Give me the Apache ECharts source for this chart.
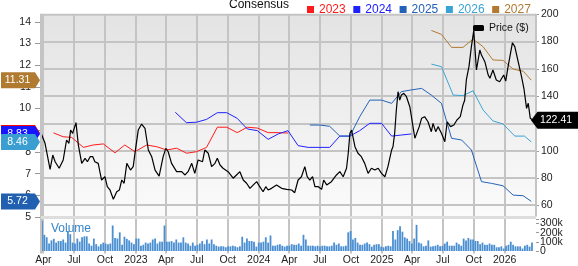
<!DOCTYPE html>
<html><head><meta charset="utf-8">
<script src="https://cdn.jsdelivr.net/npm/echarts@6/dist/echarts.min.js"></script>
<style>
html,body{margin:0;padding:0;background:#fff}
#c{width:578px;height:266px;background:linear-gradient(#e3e3e3,#fbfbfb) no-repeat;background-position:41px 14px;background-size:495px 203px}
</style>
</head><body><div id="c"></div>
<script>
// ---------- data ----------
const priceDates = ['2022-03-25','2022-04-06','2022-04-21','2022-04-29','2022-05-06','2022-05-18','2022-05-30','2022-06-04','2022-06-09','2022-06-16','2022-06-21','2022-06-27','2022-07-07','2022-07-14','2022-07-24','2022-08-03','2022-08-10','2022-08-18','2022-08-26','2022-09-01','2022-09-11','2022-09-21','2022-10-01','2022-10-08','2022-10-16','2022-10-26','2022-11-05','2022-11-13','2022-11-20','2022-11-27','2022-12-05','2022-12-16','2022-12-24','2023-01-01','2023-01-08','2023-01-18','2023-01-28','2023-02-07','2023-02-17','2023-02-27','2023-03-11','2023-03-23','2023-03-31','2023-04-07','2023-04-17','2023-05-02','2023-05-17','2023-05-27','2023-06-05','2023-06-16','2023-06-25','2023-07-05','2023-07-18','2023-07-25','2023-08-04','2023-08-14','2023-08-24','2023-08-31','2023-09-08','2023-09-17','2023-10-02','2023-10-17','2023-10-27','2023-11-06','2023-11-16','2023-11-26','2023-12-06','2023-12-16','2023-12-26','2024-01-04','2024-01-14','2024-01-22','2024-01-29','2024-02-08','2024-02-23','2024-03-09','2024-03-24','2024-04-08','2024-04-17','2024-04-27','2024-05-07','2024-05-17','2024-05-24','2024-06-01','2024-06-09','2024-06-16','2024-06-26','2024-07-06','2024-07-12','2024-07-21','2024-08-04','2024-08-19','2024-08-29','2024-09-08','2024-09-18','2024-09-23','2024-09-28','2024-10-03','2024-10-13','2024-10-22','2024-11-01','2024-11-11','2024-11-21','2024-12-01','2024-12-11','2024-12-21','2024-12-31','2025-01-10','2025-01-19','2025-01-30','2025-02-03','2025-02-08','2025-02-13','2025-02-18','2025-02-23','2025-02-28','2025-03-07','2025-03-15','2025-03-25','2025-03-30','2025-04-09','2025-04-14','2025-04-22','2025-04-29','2025-05-08','2025-05-18','2025-05-28','2025-06-02','2025-06-10','2025-06-17','2025-06-27','2025-07-07','2025-07-14','2025-07-24','2025-08-03','2025-08-12','2025-08-22','2025-08-30','2025-09-04','2025-09-09','2025-09-17','2025-09-24','2025-10-01','2025-10-09','2025-10-19','2025-10-24','2025-11-03','2025-11-13','2025-11-18','2025-11-27','2025-12-07','2025-12-17','2025-12-29','2026-01-04','2026-01-11','2026-01-24','2026-01-31','2026-02-10','2026-02-20','2026-02-27','2026-03-07','2026-03-12','2026-03-18','2026-03-26'];
const priceValues = [113,105.5,86.4,96.9,92,87.2,93.3,92,107.9,105.5,115.2,112.8,120.6,104.2,90.8,94.5,92,95.7,95.7,92,90.8,78.6,81,73.7,71.3,64.5,70,71.3,78.6,76.2,90.8,85.9,88.4,103,115.2,119.6,116.5,100.6,95.7,85.9,81.5,95.7,101.8,99.3,90.8,84.7,84.7,82.3,84.7,90.8,83.5,93.3,92,100.6,98.2,88.4,90.8,94.5,89.6,87.2,84.7,79.9,82.3,84.7,78.6,76.2,72.5,75,77.4,73.7,70,73.7,71.3,72.5,75,72.5,71.8,71.3,69.3,78.6,81,88.4,81,78.6,81,73.7,73.7,71.8,78.6,75,77.4,82.3,84.7,81,87.2,98.2,112.8,115.2,103,98.2,95.7,90.8,83.5,87.2,85.9,87.2,83.5,81,88.4,100.6,103,112.8,129.9,143.3,137.2,140.9,142.1,139.6,132.3,133.6,109.2,107.9,117.7,123.8,125,121.3,114,120.1,114,117.7,112.8,106.7,121.3,117.7,118.9,122.6,125,133.6,137,151.9,162,176.3,188,159.2,173.8,170.2,165.3,155.5,153.1,159.2,151.9,150.6,155.5,151,161.6,179.2,176.3,165.3,154.3,145.8,131.1,134.8,123.8,122.41];

const eps2023Dates = ['2022-05-01','2022-05-30','2022-06-24','2022-07-29','2022-08-27','2022-09-26','2022-10-31','2022-11-29','2022-12-29','2023-02-02','2023-03-04','2023-04-02','2023-05-02','2023-06-01','2023-06-30','2023-07-30','2023-08-31','2023-09-28','2023-10-29','2023-11-28','2023-12-28','2024-01-29','2024-02-28','2024-03-28'];
const eps2023 = [8.88,8.70,8.67,8.21,8.32,8.37,7.96,8.32,8.01,8.32,8.24,8.09,8.17,7.94,8.01,8.21,9.14,9.14,8.89,9.14,9.10,8.89,8.89,8.87];

const eps2024Dates = ['2023-04-28','2023-05-31','2023-06-30','2023-07-30','2023-08-31','2023-09-28','2023-10-29','2023-11-28','2023-12-28','2024-01-29','2024-02-28','2024-03-28','2024-04-27','2024-05-27','2024-06-28','2024-07-30','2024-08-29','2024-09-28','2024-10-27','2024-11-26','2024-12-31','2025-01-30','2025-02-28','2025-03-30'];
const eps2024 = [9.83,9.35,9.37,9.50,9.81,9.81,9.55,9.06,8.98,8.58,8.83,8.98,8.29,8.21,8.21,8.21,8.73,8.73,8.98,9.32,9.32,8.73,8.78,8.83];

const eps2025Dates = ['2024-06-01','2024-07-01','2024-07-30','2024-08-29','2024-09-28','2024-10-27','2024-11-26','2024-12-31','2025-01-30','2025-02-28','2025-03-30','2025-04-29','2025-05-28','2025-06-27','2025-07-27','2025-08-26','2025-09-24','2025-10-24','2025-11-23','2025-12-27','2026-01-26','2026-02-25','2026-03-21'];
const eps2025 = [9.24,9.24,9.18,8.73,8.73,9.62,10.39,10.39,10.24,10.78,10.86,10.93,10.62,10.24,8.63,8.55,8.09,6.63,6.55,6.44,6.01,5.98,5.72];

const eps2026Dates = ['2025-05-28','2025-06-27','2025-08-01','2025-08-30','2025-09-29','2025-10-29','2025-11-27','2025-12-27','2026-01-31','2026-03-01','2026-03-21'];
const eps2026 = [12.05,11.93,10.62,10.60,10.82,9.93,9.43,9.29,8.73,8.73,8.46];

const eps2027Dates = ['2025-05-28','2025-06-27','2025-07-27','2025-08-30','2025-09-29','2025-10-29','2025-11-27','2025-12-27','2026-01-26','2026-02-25','2026-03-21'];
const eps2027 = [13.60,13.42,12.82,12.82,13.20,12.85,12.24,12.22,11.82,11.72,11.31];

const volumeStart = '2022-03-28';   // weekly bars from this week
const volumeK = [
330,177,150,82,116,133,92,109,109,126,
92,218,184,92,82,136,102,150,160,160,
82,58,136,75,51,75,92,82,75,
82,279,143,136,204,68,156,133,116,92,
75,136,136,58,68,92,82,92,126,136,
82,102,102,279,102,102,109,92,126,92,
92,150,92,82,58,92,58,68,82,109,
75,126,82,126,75,58,48,51,51,
41,51,51,58,51,41,51,156,92,136,
109,109,102,48,92,92,102,150,92,170,
58,58,68,75,58,48,58,58,75,68,
68,82,58,177,126,58,58,58,51,58,
48,58,58,51,51,58,92,68,82,51,
51,58,204,218,126,143,92,68,68,82,
92,75,48,68,75,75,48,41,51,58,
51,218,126,228,272,211,150,136,109,82,
136,286,92,82,51,58,116,48,51,58,
68,51,58,82,102,58,58,58,92,75,
58,136,116,143,126,126,109,109,75,92,
68,68,82,68,68,41,41,51,27,58,
68,102,68,51,51,51,27,58,68,48,
92];
const volumeTicks = [0, 100, 200, 300];
const volumeTickLabels = ['0', '100k', '200k', '300k'];
const priceTicks = [60, 80, 100, 120, 140, 160, 180];

const xTickDates = ['2022-04-01','2022-07-01','2022-10-01','2023-01-01','2023-04-01','2023-07-01','2023-10-01','2024-01-01','2024-04-01','2024-07-01','2024-10-01','2025-01-01','2025-04-01','2025-07-01','2025-10-01','2026-01-01'];
const xTickLabels = ['Apr','Jul','Oct','2023','Apr','Jul','Oct','2024','Apr','Jul','Oct','2025','Apr','Jul','Oct','2026'];

const epsNames = ['2023','2024','2025','2026','2027'];
const epsColors = ['#ff1a1a','#2020ff','#2362b8','#3aa3d5','#b07a30'];
const tagColors = ['#ff0000','#1515ff','#2160b0','#3a9fd0','#b07a30'];

// ---------- build ----------
const FONT = '"Liberation Sans", Arial, sans-serif';
const ts = s => Date.UTC(+s.slice(0, 4), +s.slice(5, 7) - 1, +s.slice(8, 10));
const DAY = 86400000;
const xMin = ts('2022-03-25'), xMax = ts('2026-04-04');
const xTickTs = xTickDates.map(ts);
const pair = (d, v) => d.map((x, i) => [ts(x), v[i]]);
const volStart = ts(volumeStart);
const volumeData = volumeK.map((v, i) => [volStart + i * 7 * DAY, v]);

const L = 41, W = 495, TOP = 14.3;
const GRID_COLOR = '#c4c4c4';
const epsD = [eps2023Dates, eps2024Dates, eps2025Dates, eps2026Dates, eps2027Dates];
const epsV = [eps2023, eps2024, eps2025, eps2026, eps2027];

function xAxis(gridIndex, extra) {
  return Object.assign({
    type: 'value', gridIndex, min: xMin, max: xMax, scale: true,
    axisLine: { show: false }, axisTick: { show: false },
    axisLabel: { show: false }, splitLine: { show: false }
  }, extra || {});
}

const chart = echarts.init(document.getElementById('c'), null, { renderer: 'canvas' });
const labelStyle = { fontFamily: FONT, fontSize: 10.5, color: '#222' };

chart.setOption({
  animation: false,
  backgroundColor: 'transparent',
  grid: [
    { left: L, top: TOP, width: W, height: 191.1 },        // price
    { left: L, top: 21.8, width: W, height: 195.2 },       // eps
    { left: L, top: 219, width: W, height: 34.3 }          // volume
  ],
  xAxis: [
    xAxis(0), xAxis(1),
    xAxis(2, {
      axisTick: { show: false, customValues: xTickTs },
      axisLabel: Object.assign({ show: true, margin: 4, customValues: xTickTs, hideOverlap: false,
        formatter: v => { const i = xTickTs.findIndex(t => Math.abs(t - v) < DAY); return i >= 0 ? xTickLabels[i] : ''; } }, labelStyle)
    })
  ],
  yAxis: [
    { type: 'value', gridIndex: 0, position: 'right', min: 60, max: 200, interval: 20,
      axisLine: { show: false }, axisTick: { show: true, length: 3, lineStyle: { color: '#999' } },
      axisLabel: Object.assign({ margin: 5 }, labelStyle),
      splitLine: { show: false } },
    { type: 'value', gridIndex: 1, position: 'left', min: 5, max: 14, interval: 1,
      axisLine: { show: false }, axisTick: { show: true, length: 6, lineStyle: { color: '#999' } },
      axisLabel: Object.assign({ margin: 10 }, labelStyle),
      splitLine: { show: false } },
    { type: 'value', gridIndex: 2, position: 'right', min: 0, max: 350, interval: 100,
      axisLine: { show: false }, axisTick: { show: true, length: 3, lineStyle: { color: '#999' } },
      axisLabel: { show: false }, splitLine: { show: false } }
  ],
  legend: [
    { data: epsNames.map((n, i) => ({ name: n, textStyle: { color: epsColors[i] } })),
      left: 302, top: -1.5, icon: 'rect', itemWidth: 7, itemHeight: 7, itemGap: 7.6,
      textStyle: { fontFamily: FONT, fontSize: 12 }, selectedMode: false },
    { data: ['Price ($)'], left: 468, top: 17.5, icon: 'roundRect', itemWidth: 11, itemHeight: 6,
      textStyle: { fontFamily: FONT, fontSize: 10.5, color: '#111' }, selectedMode: false }
  ],
  series: [
    { name: 'Volume', type: 'bar', xAxisIndex: 2, yAxisIndex: 2, data: volumeData, barWidth: 1.8,
      itemStyle: { color: '#4a8fd2' }, silent: true, z: 4 },
    ...epsNames.map((n, i) => ({
      name: n, type: 'line', xAxisIndex: 1, yAxisIndex: 1, data: pair(epsD[i], epsV[i]),
      symbol: 'none', lineStyle: { color: epsColors[i], width: 1 }, itemStyle: { color: epsColors[i] }, z: 5, silent: true
    })),
    { name: 'Price ($)', type: 'line', xAxisIndex: 0, yAxisIndex: 0, data: pair(priceDates, priceValues),
      symbol: 'none', lineStyle: { color: '#000', width: 1.2 }, itemStyle: { color: '#000' }, z: 6, silent: true }
  ]
});

// ---------- decorations (positions from the chart's own scales) ----------
const g = [];
xTickTs.forEach(t => {
  const x = Math.round(chart.convertToPixel({ xAxisIndex: 2 }, t));
  g.push({ type: 'rect', z: 1, silent: true, shape: { x: x - 1, y: TOP, width: 2, height: 253.5 - TOP }, style: { fill: GRID_COLOR } });
});
priceTicks.forEach(p => {
  const y = Math.round(chart.convertToPixel({ yAxisIndex: 0 }, p));
  g.push({ type: 'rect', z: 1, silent: true, shape: { x: L, y: y - 1, width: W, height: 2 }, style: { fill: GRID_COLOR } });
});
g.push({ type: 'rect', shape: { x: L, y: TOP - 0.5, width: W, height: 2 }, z: 20, style: { fill: '#c4c4c4' } });
g.push({ type: 'rect', shape: { x: L - 1, y: TOP - 0.5, width: 2, height: 254 - TOP }, z: 20, style: { fill: '#c4c4c4' } });
g.push({ type: 'rect', shape: { x: L + W - 1, y: TOP - 0.5, width: 2, height: 217 - TOP }, z: 20, style: { fill: '#c4c4c4' } });
g.push({ type: 'rect', shape: { x: L, y: 216, width: W, height: 3 }, z: 20, style: { fill: '#dddddd' } });

volumeTicks.forEach((v, i) => {
  const y = chart.convertToPixel({ yAxisIndex: 2 }, v);
  g.push({ type: 'text', x: 540, y, z: 30, style: { text: volumeTickLabels[i], fill: '#222', font: '10.5px ' + FONT, align: 'left', verticalAlign: 'middle', textAlign: 'left', textVerticalAlign: 'middle' } });
});

g.push({ type: 'text', x: 229, y: 5, z: 30, style: { text: 'Consensus', fill: '#111', font: '12px ' + FONT, align: 'left', verticalAlign: 'middle', textAlign: 'left', textVerticalAlign: 'middle' } });
g.push({ type: 'text', x: 51, y: 229, z: 30, style: { text: 'Volume', fill: '#3585c8', font: '12px ' + FONT, align: 'left', verticalAlign: 'middle', textAlign: 'left', textVerticalAlign: 'middle' } });

function leftTag(value, color, z) {
  const y = chart.convertToPixel({ yAxisIndex: 1 }, value);
  g.push({ type: 'polygon', z, shape: { points: [[1, y - 8], [35, y - 8], [40, y], [35, y + 8], [1, y + 8]] }, style: { fill: color } });
  g.push({ type: 'text', x: 17.5, y, z: z + 1, style: { text: value.toFixed(2), fill: '#fff', font: '10.5px ' + FONT, align: 'center', verticalAlign: 'middle', textAlign: 'center', textVerticalAlign: 'middle' } });
}
[0, 1, 2, 4, 3].forEach((i, k) => leftTag(epsV[i][epsV[i].length - 1], tagColors[i], 40 + k * 2));

const lastPrice = priceValues[priceValues.length - 1];
const py = chart.convertToPixel({ yAxisIndex: 0 }, lastPrice);
g.push({ type: 'polygon', z: 60, shape: { points: [[531, py], [537.5, py - 8.5], [578, py - 8.5], [578, py + 8.5], [537.5, py + 8.5]] }, style: { fill: '#000' } });
g.push({ type: 'text', x: 556, y: py, z: 61, style: { text: lastPrice.toFixed(2), fill: '#fff', font: '10.5px ' + FONT, align: 'center', verticalAlign: 'middle', textAlign: 'center', textVerticalAlign: 'middle' } });

chart.setOption({ graphic: g });
</script>
</body></html>
